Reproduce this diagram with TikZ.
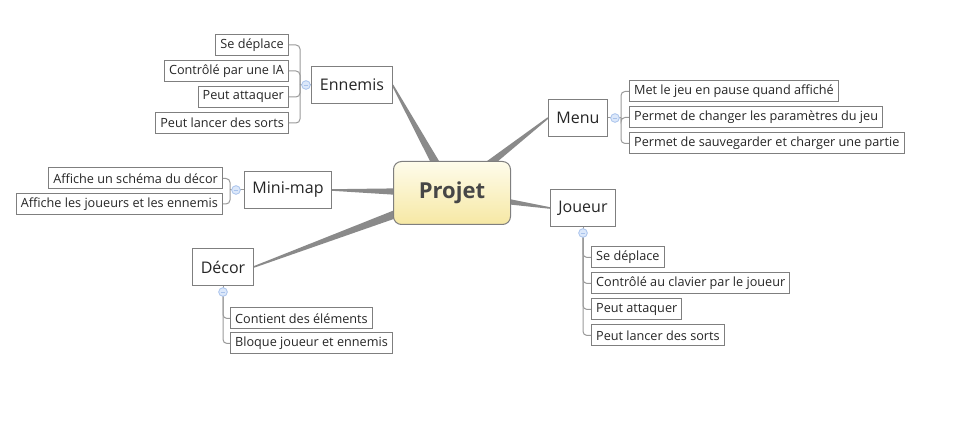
\documentclass[tikz,border=0pt]{standalone}
\usepackage{fontspec}
\setmainfont{Open Sans}
\usetikzlibrary{calc,backgrounds}
\definecolor{lnk}{HTML}{8A8A8A}
\definecolor{twg}{HTML}{9A9A9A}
\definecolor{edge}{HTML}{7F7F7F}
\definecolor{ink}{HTML}{262626}
\definecolor{knobin}{HTML}{DCE8FA}
\definecolor{knobout}{HTML}{A9C3EC}
\definecolor{creamtop}{HTML}{FEFCEB}
\definecolor{creambot}{HTML}{F6E8A4}
\newcommand\trunk[2]{\fill[lnk] ($(#1)!4pt!90:(#2)$) -- ($(#2)!0.6pt!-90:(#1)$)
  -- ($(#2)!0.6pt!90:(#1)$) -- ($(#1)!4pt!-90:(#2)$) -- cycle;}
\begin{document}
\begin{tikzpicture}[x=0.75pt,y=-0.75pt,
    topic/.style={draw=edge,fill=white,line width=0.75pt,inner xsep=6pt,minimum height=28pt,
      font=\fontsize{12}{14}\selectfont,text=ink},
    leaf/.style={draw=edge,fill=white,line width=0.75pt,inner xsep=3.5pt,inner ysep=0pt,
      minimum height=15.75pt,font=\fontsize{9.5}{11}\selectfont,text=ink},
    knob/.style={circle,draw=knobout,fill=knobin,line width=0.6pt,minimum size=6.5pt,inner sep=0pt,
      path picture={\draw[knobout,line width=0.6pt] ($(path picture bounding box.center)+(-1.8pt,0)$) -- ++(3.6pt,0);}},
    twig/.style={twg,line width=0.75pt,rounded corners=3pt}]
  \useasboundingbox (0,0) rectangle (968,423);

  \node[draw=edge,line width=0.75pt,rounded corners=6pt,top color=creamtop,bottom color=creambot,
    minimum width=87.75pt,minimum height=47.25pt,font=\fontsize{16.5}{18}\selectfont\bfseries,text=black!72]
    (P) at (452,193) {Projet};

  \node[topic] (En) at (352,85)  {Ennemis};
  \node[topic] (Me) at (578,118) {Menu};
  \node[topic] (Jo) at (583,208) {Joueur};
  \node[topic] (Mm) at (288,190) {Mini-map};
  \node[topic] (De) at (223,267) {Décor};

  \node[leaf,anchor=east] (En1) at (289,45)  {Se déplace};
  \node[leaf,anchor=east] (En2) at (289,71)  {Contrôlé par une IA};
  \node[leaf,anchor=east] (En3) at (289,97)  {Peut attaquer};
  \node[leaf,anchor=east] (En4) at (289,123) {Peut lancer des sorts};

  \node[leaf,anchor=west] (Me1) at (629,91.5)  {Met le jeu en pause quand affiché};
  \node[leaf,anchor=west] (Me2) at (629,117.5) {Permet de changer les paramètres du jeu};
  \node[leaf,anchor=west] (Me3) at (629,143.5) {Permet de sauvegarder et charger une partie};

  \node[leaf,anchor=west] (Jo1) at (591,257.5) {Se déplace};
  \node[leaf,anchor=west] (Jo2) at (591,283.5) {Contrôlé au clavier par le joueur};
  \node[leaf,anchor=west] (Jo3) at (591,309.5) {Peut attaquer};
  \node[leaf,anchor=west] (Jo4) at (591,335.5) {Peut lancer des sorts};

  \node[leaf,anchor=east] (Mm1) at (223,178.5) {Affiche un schéma du décor};
  \node[leaf,anchor=east] (Mm2) at (223,204)   {Affiche les joueurs et les ennemis};

  \node[leaf,anchor=west] (De1) at (230,318.5) {Contient des éléments};
  \node[leaf,anchor=west] (De2) at (230,343.5) {Bloque joueur et ennemis};

  \coordinate (EnH) at (300,85);
  \coordinate (MeH) at (621,118);
  \coordinate (JoH) at (583,233);
  \coordinate (MmH) at (230,190);
  \coordinate (DeH) at (223,292);

  \begin{scope}[on background layer]
    \trunk{P.center}{En.east}
    \trunk{P.center}{Me.west}
    \trunk{P.center}{Jo.west}
    \trunk{P.center}{Mm.east}
    \trunk{P.center}{De.east}
    \draw[twig] (En.west) -- (EnH);
    \foreach \c in {En1,En2,En3,En4} \draw[twig] (EnH) |- (\c.east);
    \draw[twig] (Me.east) -- (MeH);
    \foreach \c in {Me1,Me2,Me3} \draw[twig] (MeH) |- (\c.west);
    \draw[twig] (Jo.south) -- (JoH);
    \foreach \c in {Jo1,Jo2,Jo3,Jo4} \draw[twig] (JoH) |- (\c.west);
    \draw[twig] (Mm.west) -- (MmH);
    \foreach \c in {Mm1,Mm2} \draw[twig] (MmH) |- (\c.east);
    \draw[twig] (De.south) -- (DeH);
    \foreach \c in {De1,De2} \draw[twig] (DeH) |- (\c.west);
  \end{scope}

  \node[knob] (EnK) at (306,85)  {};
  \node[knob] (MeK) at (615,118) {};
  \node[knob] (JoK) at (583,233) {};
  \node[knob] (MmK) at (236,190) {};
  \node[knob] (DeK) at (223,292) {};
\end{tikzpicture}
\end{document}
